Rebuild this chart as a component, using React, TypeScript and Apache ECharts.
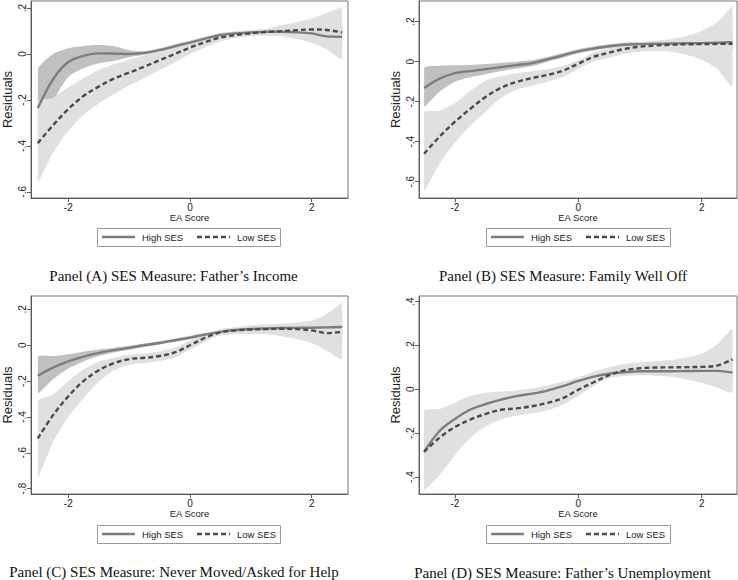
import React, { useEffect, useRef } from "react";
import * as echarts from "echarts";

// Shared x grid (EA Score)
const xGrid = [-2.5, -2.25, -2, -1.75, -1.5, -1.25, -1, -0.75, -0.5, -0.25, 0, 0.25, 0.5, 0.75, 1, 1.25, 1.5, 1.75, 2, 2.25, 2.5];
const xTicks = [-2, 0, 2];

// Panel A: Father's Income
const highA = [-0.235, -0.11, -0.035, -0.008, 0.003, 0.002, 0.0, 0.005, 0.017, 0.034, 0.05, 0.067, 0.083, 0.09, 0.094, 0.097, 0.097, 0.095, 0.09, 0.077, 0.075];
const highALo = [-0.4, -0.21, -0.1, -0.062, -0.04, -0.03, -0.014, -0.003, 0.01, 0.026, 0.042, 0.058, 0.074, 0.082, 0.086, 0.088, 0.085, 0.075, 0.06, 0.04, 0.03];
const highAHi = [-0.07, 0.0, 0.025, 0.035, 0.039, 0.034, 0.017, 0.012, 0.025, 0.042, 0.058, 0.075, 0.09, 0.098, 0.102, 0.106, 0.11, 0.115, 0.12, 0.12, 0.12];
const lowA = [-0.388, -0.31, -0.24, -0.183, -0.142, -0.107, -0.081, -0.055, -0.027, 0.0, 0.028, 0.052, 0.072, 0.083, 0.09, 0.096, 0.1, 0.104, 0.107, 0.105, 0.094];
const lowALo = [-0.56, -0.43, -0.335, -0.265, -0.215, -0.175, -0.138, -0.105, -0.07, -0.037, 0.0, 0.03, 0.055, 0.07, 0.078, 0.08, 0.078, 0.065, 0.048, 0.02, -0.02];
const lowAHi = [-0.21, -0.19, -0.145, -0.105, -0.07, -0.045, -0.025, -0.005, 0.015, 0.035, 0.055, 0.075, 0.09, 0.098, 0.104, 0.11, 0.125, 0.138, 0.155, 0.18, 0.205];
const yTicksA = [-0.6, -0.4, -0.2, 0, 0.2];

// Panel B: Family Well Off
const highB = [-0.132, -0.085, -0.057, -0.047, -0.037, -0.027, -0.017, -0.007, 0.012, 0.032, 0.052, 0.066, 0.077, 0.085, 0.088, 0.09, 0.091, 0.092, 0.093, 0.095, 0.097];
const highBLo = [-0.225, -0.15, -0.1, -0.078, -0.063, -0.047, -0.034, -0.022, 0.0, 0.02, 0.042, 0.056, 0.068, 0.075, 0.078, 0.08, 0.078, 0.076, 0.074, 0.07, 0.05];
const highBHi = [-0.032, -0.02, -0.018, -0.017, -0.012, -0.007, 0.0, 0.008, 0.024, 0.043, 0.062, 0.076, 0.087, 0.095, 0.098, 0.1, 0.104, 0.108, 0.112, 0.12, 0.145];
const lowB = [-0.46, -0.375, -0.3, -0.235, -0.175, -0.13, -0.101, -0.082, -0.066, -0.045, -0.01, 0.025, 0.045, 0.064, 0.075, 0.081, 0.085, 0.087, 0.088, 0.089, 0.09];
const lowBLo = [-0.648, -0.51, -0.405, -0.32, -0.25, -0.18, -0.14, -0.12, -0.1, -0.077, -0.035, 0.0, 0.02, 0.04, 0.05, 0.053, 0.05, 0.035, 0.01, -0.035, -0.12];
const lowBHi = [-0.257, -0.245, -0.207, -0.145, -0.095, -0.072, -0.058, -0.048, -0.038, -0.022, 0.008, 0.045, 0.068, 0.086, 0.098, 0.106, 0.114, 0.128, 0.155, 0.197, 0.28];
const yTicksB = [-0.6, -0.4, -0.2, 0, 0.2];

// Panel C: Never Moved/Asked for Help
const highC = [-0.17, -0.125, -0.09, -0.063, -0.042, -0.027, -0.014, 0.0, 0.013, 0.028, 0.043, 0.06, 0.075, 0.085, 0.091, 0.094, 0.096, 0.097, 0.098, 0.1, 0.102];
const highCLo = [-0.27, -0.19, -0.13, -0.09, -0.06, -0.04, -0.025, -0.01, 0.004, 0.019, 0.034, 0.052, 0.067, 0.077, 0.082, 0.084, 0.085, 0.084, 0.081, 0.075, 0.05];
const highCHi = [-0.065, -0.06, -0.05, -0.036, -0.024, -0.014, -0.003, 0.01, 0.022, 0.037, 0.052, 0.068, 0.083, 0.093, 0.1, 0.104, 0.107, 0.11, 0.115, 0.125, 0.155];
const lowC = [-0.52, -0.39, -0.285, -0.2, -0.14, -0.1, -0.077, -0.07, -0.06, -0.04, 0.0, 0.042, 0.072, 0.083, 0.088, 0.09, 0.092, 0.09, 0.083, 0.068, 0.075];
const lowCLo = [-0.74, -0.54, -0.4, -0.295, -0.205, -0.14, -0.108, -0.1, -0.088, -0.068, -0.025, 0.02, 0.054, 0.062, 0.063, 0.061, 0.05, 0.035, 0.012, -0.03, -0.075];
const lowCHi = [-0.315, -0.275, -0.2, -0.135, -0.092, -0.07, -0.052, -0.046, -0.034, -0.013, 0.025, 0.062, 0.09, 0.1, 0.112, 0.117, 0.12, 0.126, 0.138, 0.175, 0.24];
const yTicksC = [-0.8, -0.6, -0.4, -0.2, 0, 0.2];

// Panel D: Father's Unemployment
const highD = [-0.285, -0.19, -0.135, -0.092, -0.067, -0.047, -0.031, -0.02, -0.006, 0.014, 0.038, 0.058, 0.071, 0.078, 0.082, 0.082, 0.082, 0.083, 0.084, 0.084, 0.076];
const highDLo = [-0.39, -0.26, -0.17, -0.115, -0.085, -0.062, -0.045, -0.033, -0.018, 0.002, 0.027, 0.048, 0.062, 0.069, 0.072, 0.07, 0.068, 0.066, 0.062, 0.053, 0.03];
const highDHi = [-0.17, -0.13, -0.1, -0.07, -0.05, -0.033, -0.018, -0.008, 0.006, 0.026, 0.049, 0.068, 0.08, 0.087, 0.092, 0.094, 0.096, 0.1, 0.105, 0.115, 0.13];
const lowD = [-0.285, -0.22, -0.172, -0.138, -0.112, -0.093, -0.087, -0.077, -0.062, -0.04, -0.002, 0.032, 0.064, 0.086, 0.096, 0.099, 0.1, 0.101, 0.102, 0.108, 0.136];
const lowDLo = [-0.46, -0.39, -0.3, -0.222, -0.17, -0.137, -0.12, -0.11, -0.096, -0.07, -0.03, 0.015, 0.05, 0.06, 0.064, 0.062, 0.057, 0.045, 0.03, 0.008, -0.012];
const lowDHi = [-0.1, -0.09, -0.06, -0.03, -0.016, -0.01, -0.005, 0.004, 0.017, 0.035, 0.055, 0.08, 0.1, 0.115, 0.123, 0.128, 0.134, 0.145, 0.162, 0.205, 0.278];
const yTicksD = [-0.4, -0.2, 0, 0.2, 0.4];

const captions = [
  "Panel (A) SES Measure: Father\u2019s Income",
  "Panel (B) SES Measure: Family Well Off",
  "Panel (C) SES Measure: Never Moved/Asked for Help",
  "Panel (D) SES Measure: Father\u2019s Unemployment",
];
const seriesNames = ["High SES", "Low SES"];
const xTitle = "EA Score";
const yTitle = "Residuals";

const SANS = "'Liberation Sans', Arial, Helvetica, sans-serif";
const SERIF = "'Liberation Serif', 'Times New Roman', serif";

const panels = [
  { high: highA, highLo: highALo, highHi: highAHi, low: lowA, lowLo: lowALo, lowHi: lowAHi, yTicks: yTicksA, yMin: -0.627, yMax: 0.231, xMin: -2.612, xMax: 2.596, grid: { left: 29, top: 1, width: 319, height: 197 }, legend: { left: 97, top: 228, width: 183 }, cap: { x: 173.5, y: 275.5 } },
  { high: highB, highLo: highBLo, highHi: highBHi, low: lowB, lowLo: lowBLo, lowHi: lowBHi, yTicks: yTicksB, yMin: -0.6815, yMax: 0.3035, xMin: -2.583, xMax: 2.573, grid: { left: 419, top: 1, width: 318, height: 197 }, legend: { left: 486, top: 228, width: 184 }, cap: { x: 563, y: 275.5 } },
  { high: highC, highLo: highCLo, highHi: highCHi, low: lowC, lowLo: lowCLo, lowHi: lowCHi, yTicks: yTicksC, yMin: -0.83, yMax: 0.275, xMin: -2.612, xMax: 2.596, grid: { left: 29, top: 296, width: 319, height: 198 }, legend: { left: 97, top: 525, width: 183 }, cap: { x: 174, y: 572 } },
  { high: highD, highLo: highDLo, highHi: highDHi, low: lowD, lowLo: lowDLo, lowHi: lowDHi, yTicks: yTicksD, yMin: -0.477, yMax: 0.425, xMin: -2.583, xMax: 2.573, grid: { left: 419, top: 296, width: 318, height: 198 }, legend: { left: 486, top: 525, width: 184 }, cap: { x: 562.5, y: 572.5 } },
];

const fmtY = (v: number) => {
  if (Math.abs(v) < 1e-9) return "0";
  const s = Math.abs(v).toFixed(1).replace(/^0/, "");
  return (v < 0 ? "-" : "") + s;
};

const AXIS_COLOR = "#5a5a5a";
const HIGH_LINE = "#7d7d7d";
const LOW_LINE = "#4a4a4a";
const HIGH_BAND = "#c0c0c0";
const LOW_BAND = "#e0e0e0";
const LINE_W = 2.4;
const DASH = [5, 3];

function buildOption() {
  const grids: any[] = [];
  const xAxes: any[] = [];
  const yAxes: any[] = [];
  const series: any[] = [];
  const graphics: any[] = [];

  panels.forEach((p, i) => {
    grids.push({ ...p.grid, show: true, borderColor: "#777", borderWidth: 1, backgroundColor: "transparent", containLabel: false });
    xAxes.push({
      type: "value", gridIndex: i, min: p.xMin, max: p.xMax,
      name: xTitle, nameLocation: "middle", nameGap: 14,
      nameTextStyle: { fontFamily: SANS, fontSize: 9.5, color: "#222" },
      axisLine: { show: true, onZero: false, lineStyle: { color: AXIS_COLOR, width: 1 } },
      axisTick: { show: true, inside: false, length: 4, customValues: xTicks, lineStyle: { color: AXIS_COLOR } },
      axisLabel: { show: true, margin: 4, customValues: xTicks, fontFamily: SANS, fontSize: 10, color: "#222", formatter: (v: number) => String(v) },
      splitLine: { show: false },
    });
    yAxes.push({
      type: "value", gridIndex: i, min: p.yMin, max: p.yMax,
      name: yTitle, nameLocation: "middle", nameGap: 17,
      nameTextStyle: { fontFamily: SANS, fontSize: 13, color: "#222" },
      axisLine: { show: true, onZero: false, lineStyle: { color: AXIS_COLOR, width: 1 } },
      axisTick: { show: true, inside: false, length: 4, customValues: p.yTicks, lineStyle: { color: AXIS_COLOR } },
      axisLabel: { show: true, rotate: 90, margin: 4, customValues: p.yTicks, fontFamily: SANS, fontSize: 10, color: "#222", formatter: (v: number) => fmtY(v) },
      splitLine: { show: false },
    });

    const band = (lo: number[], hi: number[], color: string, z: number) => {
      series.push({
        type: "custom", xAxisIndex: i, yAxisIndex: i, silent: true, clip: true, z,
        data: [[0, 0]],
        renderItem: (_params: any, api: any) => {
          const pts: number[][] = [];
          for (let k = 0; k < xGrid.length; k++) pts.push(api.coord([xGrid[k], hi[k]]));
          for (let k = xGrid.length - 1; k >= 0; k--) pts.push(api.coord([xGrid[k], lo[k]]));
          let x0 = Infinity, y0 = Infinity, x1 = -Infinity, y1 = -Infinity;
          pts.forEach(([px, py]) => {
            if (px < x0) x0 = px; if (px > x1) x1 = px;
            if (py < y0) y0 = py; if (py > y1) y1 = py;
          });
          return {
            type: "polygon",
            shape: { points: pts, smooth: 0.25, smoothConstraint: [[x0, y0], [x1, y1]] },
            style: { fill: color, stroke: "none" },
          };
        },
      });
    };
    band(p.highLo, p.highHi, HIGH_BAND, 1);
    band(p.lowLo, p.lowHi, LOW_BAND, 2);

    series.push({
      type: "line", name: seriesNames[0], xAxisIndex: i, yAxisIndex: i,
      data: xGrid.map((x, k) => [x, p.high[k]]), smooth: 0.35, symbol: "none",
      lineStyle: { color: HIGH_LINE, width: LINE_W, type: "solid" }, itemStyle: { color: HIGH_LINE }, z: 4,
    });
    series.push({
      type: "line", name: seriesNames[1], xAxisIndex: i, yAxisIndex: i,
      data: xGrid.map((x, k) => [x, p.low[k]]), smooth: 0.35, symbol: "none",
      lineStyle: { color: LOW_LINE, width: LINE_W, type: DASH }, itemStyle: { color: LOW_LINE }, z: 5,
    });

    // legend box (drawn as graphic so the line keys match Stata's style)
    const L = p.legend.left, T = p.legend.top, W = p.legend.width, H = 18, cy = T + 9;
    graphics.push({ type: "rect", shape: { x: L + 0.5, y: T + 0.5, width: W, height: H }, style: { fill: "#fff", stroke: "#9a9a9a", lineWidth: 1 }, z: 10 });
    graphics.push({ type: "line", shape: { x1: L + 5, y1: cy, x2: L + 38, y2: cy }, style: { stroke: HIGH_LINE, lineWidth: LINE_W }, z: 11 });
    graphics.push({ type: "text", x: L + 45, y: cy + 0.5, style: { text: seriesNames[0], font: `9.5px ${SANS}`, fill: "#222", verticalAlign: "middle" }, z: 11 });
    graphics.push({ type: "line", shape: { x1: L + 100, y1: cy, x2: L + 133, y2: cy }, style: { stroke: LOW_LINE, lineWidth: LINE_W, lineDash: DASH }, z: 11 });
    graphics.push({ type: "text", x: L + 140, y: cy + 0.5, style: { text: seriesNames[1], font: `9.5px ${SANS}`, fill: "#222", verticalAlign: "middle" }, z: 11 });

    graphics.push({
      type: "text", x: p.cap.x, y: p.cap.y,
      style: { text: captions[i], font: `15px ${SERIF}`, fill: "#111", align: "center", verticalAlign: "middle" },
    });
  });

  return {
    animation: false,
    backgroundColor: "#fff",
    grid: grids,
    xAxis: xAxes,
    yAxis: yAxes,
    series,
    graphic: graphics,
  };
}

export default function App() {
  const ref = useRef<HTMLDivElement | null>(null);
  useEffect(() => {
    if (!ref.current) return;
    const chart = echarts.init(ref.current, undefined, { renderer: "svg" });
    chart.setOption(buildOption() as any);
    return () => chart.dispose();
  }, []);
  return <div ref={ref} style={{ position: "fixed", left: 0, top: 0, width: 738, height: 580, background: "#fff" }} />;
}
